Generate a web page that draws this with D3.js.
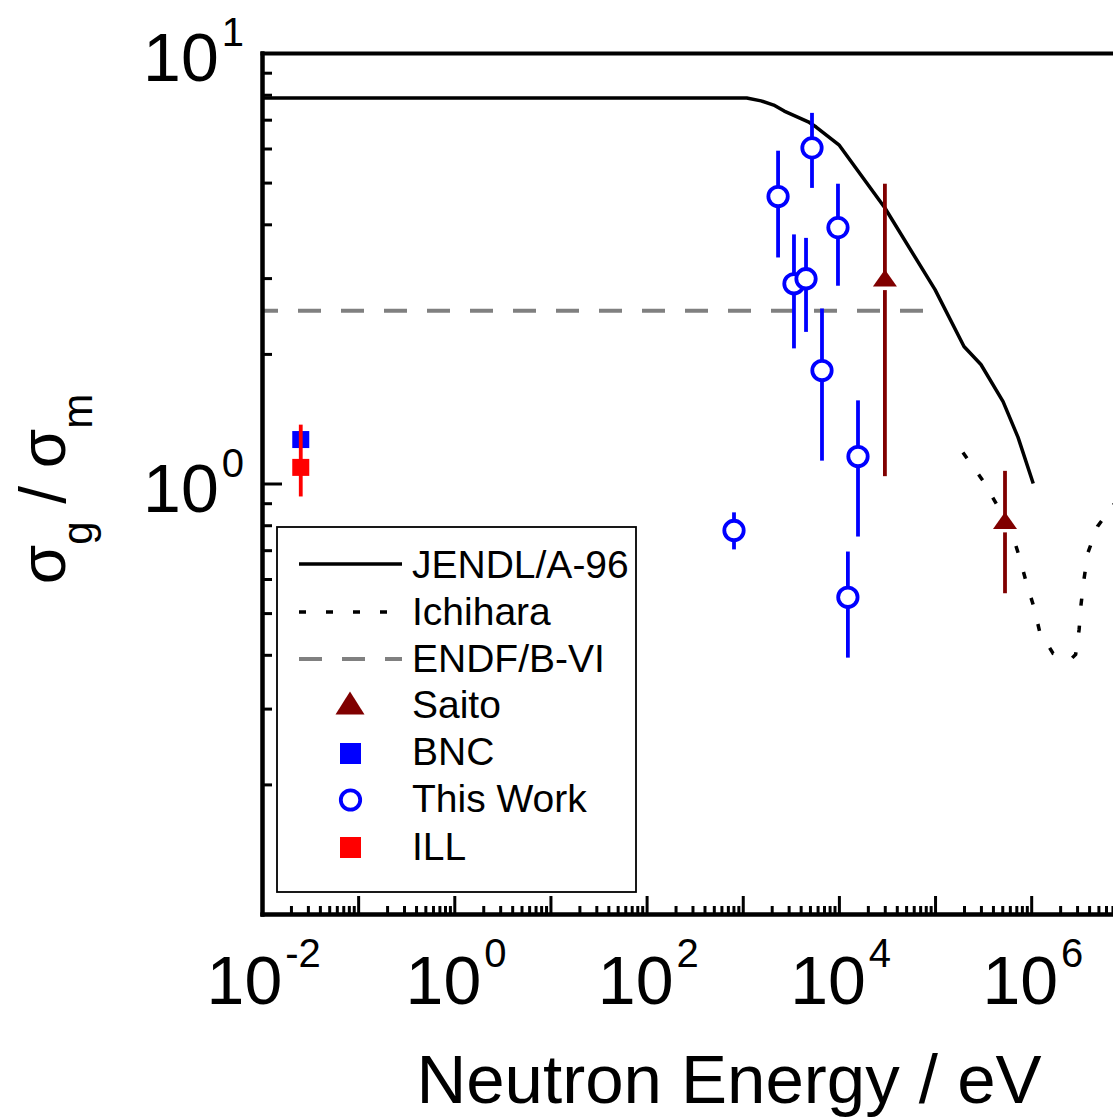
<!DOCTYPE html>
<html>
<head>
<meta charset="utf-8">
<script src="https://cdn.jsdelivr.net/npm/d3@7"></script>
<style>
  html, body { margin: 0; padding: 0; background: #fff; }
  svg { display: block; font-family: "Liberation Sans", Arial, sans-serif; }
</style>
</head>
<body>
<script>
// ---------------- data ----------------
const jendlE = [1e-2, 1100, 1550, 2100, 2700, 4800, 5800, 1e4, 3e4, 1e5, 2e5, 3e5, 5.1e5, 7.3e5, 1.05e6];
const jendlV = [7.86, 7.86, 7.74, 7.57, 7.33, 6.92, 6.73, 6.12, 4.37, 2.82, 2.08, 1.89, 1.55, 1.28, 1.0];

const ichiharaE = [1.95e5, 3.2e5, 4.5e5, 6.2e5, 7.5e5, 8.9e5, 1.07e6, 1.23e6, 1.69e6, 2.6e6, 2.9e6, 3.15e6, 3.3e6, 3.55e6, 3.9e6, 4.9e6, 7.2e6, 1e7];
const ichiharaV = [1.18, 1.01, 0.885, 0.775, 0.678, 0.589, 0.515, 0.451, 0.403, 0.391, 0.401, 0.458, 0.524, 0.602, 0.692, 0.795, 0.893, 0.95];

const endfE = [1e-2, 1e5];
const endfV = [2.52, 2.52];

const thisWorkE  = [811, 2330, 3410, 4550, 5250, 6670, 9780, 12400, 15800];
const thisWorkV  = [0.778, 4.64, 2.91, 2.99, 6.02, 1.83, 3.93, 0.544, 1.155];
const thisWorkLo = [0.703, 3.35, 2.06, 2.25, 4.86, 1.13, 2.88, 0.394, 0.753];
const thisWorkHi = [0.857, 5.93, 3.79, 3.72, 7.26, 2.55, 4.97, 0.695, 1.56];

const saitoE  = [30100, 5.34e5];
const saitoV  = [3.0, 0.821];
const saitoLo = [1.04, 0.556];
const saitoHi = [4.97, 1.07];

const bncE = [0.0253];
const bncV = [1.265];

const illE  = [0.0253];
const illV  = [1.09];
const illLo = [0.933];
const illHi = [1.37];

const xLabelValues = [1e-2, 1e0, 1e2, 1e4, 1e6];
const yLabelValues = [1e0, 1e1];
const legendLabels = ["JENDL/A-96", "Ichihara", "ENDF/B-VI", "Saito", "BNC", "This Work", "ILL"];

// ---------------- setup ----------------
const W = 1113, H = 1119;
const FONT = '"Liberation Sans", Arial, sans-serif';
const svg = d3.select("body").append("svg").attr("width", W).attr("height", H);
svg.append("rect").attr("width", W).attr("height", H).attr("fill", "#fff");

const x = d3.scaleLog().domain([1e-2, 1e7]).range([262, 262 + 9 * 96.15]);
const y = d3.scaleLog().domain([0.1, 10]).range([914, 53]);

const xMajor = d3.range(-2, 8).map(p => Math.pow(10, p));
const xMinor = [];
for (let p = -2; p < 7; p++) for (let m = 2; m <= 9; m++) xMinor.push(m * Math.pow(10, p));
const yMajor = [0.1, 1, 10];
const yMinor = [];
for (let p = -1; p < 1; p++) for (let m = 2; m <= 9; m++) yMinor.push(m * Math.pow(10, p));

function styleAxis(g, w) {
  g.select(".domain").attr("stroke", "#000").attr("stroke-width", 4).attr("stroke-linecap", "square");
  g.selectAll(".tick line").attr("stroke", "#000").attr("stroke-width", w);
  g.selectAll(".tick text").remove();
}

// ---------------- lines ----------------
const plot = svg.append("g");
const line = d3.line().x(d => x(d[0])).y(d => y(d[1]));

plot.append("path").datum(endfE.map((e, i) => [e, endfV[i]]))
  .attr("d", line).attr("fill", "none").attr("stroke", "#808080")
  .attr("stroke-width", 4).attr("stroke-dasharray", "23,20").attr("stroke-dashoffset", 7);

plot.append("path").datum(jendlE.map((e, i) => [e, jendlV[i]]))
  .attr("d", line).attr("fill", "none").attr("stroke", "#000")
  .attr("stroke-width", 3.5).attr("stroke-linejoin", "round");

plot.append("path").datum(ichiharaE.map((e, i) => [e, ichiharaV[i]]))
  .attr("d", line).attr("fill", "none").attr("stroke", "#000")
  .attr("stroke-width", 3.5).attr("stroke-dasharray", "7,20");

// ---------------- axes ----------------
const xAxisMinor = svg.append("g").attr("transform", "translate(0,914)")
  .call(d3.axisBottom(x).tickValues(xMinor).tickSize(-8).tickSizeOuter(0).tickFormat(""));
styleAxis(xAxisMinor, 3);
const xAxisMajor = svg.append("g").attr("transform", "translate(0,914)")
  .call(d3.axisBottom(x).tickValues(xMajor).tickSize(-18).tickSizeOuter(0).tickFormat(""));
styleAxis(xAxisMajor, 3);

const yAxisMinor = svg.append("g").attr("transform", "translate(262,0)")
  .call(d3.axisLeft(y).tickValues(yMinor).tickSize(-10).tickSizeOuter(0).tickFormat(""));
styleAxis(yAxisMinor, 3);
const yAxisMajor = svg.append("g").attr("transform", "translate(262,0)")
  .call(d3.axisLeft(y).tickValues(yMajor).tickSize(-20).tickSizeOuter(0).tickFormat(""));
styleAxis(yAxisMajor, 3);

const topAxis = svg.append("g").attr("transform", "translate(0,53)")
  .call(d3.axisTop(x).tickValues([]).tickSizeOuter(0));
styleAxis(topAxis, 3);

// tick labels x
const xLab = svg.append("g").attr("transform", "translate(0,914)")
  .call(d3.axisBottom(x).tickValues(xLabelValues).tickSize(0).tickFormat(""));
xLab.select(".domain").remove();
xLab.selectAll(".tick text").remove();
xLab.selectAll(".tick").each(function(d) {
  const t = d3.select(this).append("text")
    .attr("x", 1.2).attr("y", 90).attr("text-anchor", "middle")
    .attr("font-family", FONT).attr("fill", "#000").attr("font-size", 68);
  t.append("tspan").text("10");
  t.append("tspan").attr("font-size", 40).attr("dx", 3).attr("dy", -37)
    .text(String(Math.round(Math.log10(d))));
});

// tick labels y
const yLab = svg.append("g").attr("transform", "translate(262,0)")
  .call(d3.axisLeft(y).tickValues(yLabelValues).tickSize(0).tickFormat(""));
yLab.select(".domain").remove();
yLab.selectAll(".tick text").remove();
yLab.selectAll(".tick").each(function(d) {
  const t = d3.select(this).append("text")
    .attr("x", -18).attr("y", 27.5).attr("text-anchor", "end")
    .attr("font-family", FONT).attr("fill", "#000").attr("font-size", 68);
  t.append("tspan").text("10");
  t.append("tspan").attr("font-size", 40).attr("dx", 3).attr("dy", -35)
    .text(String(Math.round(Math.log10(d))));
});

// axis titles
svg.append("text").attr("x", 729).attr("y", 1103).attr("text-anchor", "middle")
  .attr("font-family", FONT).attr("font-size", 69).attr("fill", "#000")
  .text("Neutron Energy / eV");

const yt = svg.append("text").attr("transform", "translate(65,489) rotate(-90)")
  .attr("text-anchor", "middle").attr("font-family", FONT).attr("font-size", 64).attr("fill", "#000");
yt.append("tspan").text("σ");
yt.append("tspan").attr("font-size", 42).attr("dy", 27).text("g");
yt.append("tspan").attr("dy", -27).text(" / σ");
yt.append("tspan").attr("font-size", 42).attr("dy", 27).text("m");

// ---------------- points ----------------
const pts = svg.append("g");

// This Work
const tw = thisWorkE.map((e, i) => ({e, v: thisWorkV[i], lo: thisWorkLo[i], hi: thisWorkHi[i]}));
pts.selectAll(".twErr").data(tw).join("line").attr("class", "twErr")
  .attr("x1", d => x(d.e)).attr("x2", d => x(d.e))
  .attr("y1", d => y(d.hi)).attr("y2", d => y(d.lo))
  .attr("stroke", "#0000ff").attr("stroke-width", 3.8);
pts.selectAll(".twPt").data(tw).join("circle").attr("class", "twPt")
  .attr("cx", d => x(d.e)).attr("cy", d => y(d.v)).attr("r", 9.7)
  .attr("fill", "#fff").attr("stroke", "#0000ff").attr("stroke-width", 3.8);

// Saito
const sa = saitoE.map((e, i) => ({e, v: saitoV[i], lo: saitoLo[i], hi: saitoHi[i]}));
pts.selectAll(".saErrT").data(sa).join("line").attr("class", "saErrT")
  .attr("x1", d => x(d.e)).attr("x2", d => x(d.e))
  .attr("y1", d => y(d.hi)).attr("y2", d => y(d.v))
  .attr("stroke", "#800000").attr("stroke-width", 3.8);
pts.selectAll(".saErrB").data(sa).join("line").attr("class", "saErrB")
  .attr("x1", d => x(d.e)).attr("x2", d => x(d.e))
  .attr("y1", d => y(d.v) + 12).attr("y2", d => y(d.lo))
  .attr("stroke", "#800000").attr("stroke-width", 3.8);
pts.selectAll(".saPt").data(sa).join("path").attr("class", "saPt")
  .attr("transform", d => `translate(${x(d.e)},${y(d.v)})`)
  .attr("d", "M0,-8.5L12,8.5L-12,8.5Z").attr("fill", "#800000");

// BNC
pts.selectAll(".bnc").data(bncE.map((e, i) => ({e, v: bncV[i]}))).join("rect").attr("class", "bnc")
  .attr("x", d => x(d.e) - 8.5).attr("y", d => y(d.v) - 8.5)
  .attr("width", 17).attr("height", 17).attr("fill", "#0000ff");

// ILL
const il = illE.map((e, i) => ({e, v: illV[i], lo: illLo[i], hi: illHi[i]}));
pts.selectAll(".illErr").data(il).join("line").attr("class", "illErr")
  .attr("x1", d => x(d.e)).attr("x2", d => x(d.e))
  .attr("y1", d => y(d.hi)).attr("y2", d => y(d.lo))
  .attr("stroke", "#ff0000").attr("stroke-width", 3.8);
pts.selectAll(".ill").data(il).join("rect").attr("class", "ill")
  .attr("x", d => x(d.e) - 8.5).attr("y", d => y(d.v) - 8.5)
  .attr("width", 17).attr("height", 17).attr("fill", "#ff0000");

// ---------------- legend ----------------
const lg = svg.append("g");
lg.append("rect").attr("x", 277).attr("y", 527).attr("width", 359).attr("height", 365)
  .attr("fill", "#fff").attr("stroke", "#000").attr("stroke-width", 1.8);

const rowBase = [578, 625, 672, 718, 765, 812, 860];
lg.selectAll(".lt").data(legendLabels).join("text").attr("class", "lt")
  .attr("x", 412).attr("y", (d, i) => rowBase[i])
  .attr("font-family", FONT).attr("font-size", 39).attr("fill", "#000").text(d => d);

lg.append("line").attr("x1", 299).attr("x2", 402).attr("y1", 564).attr("y2", 564)
  .attr("stroke", "#000").attr("stroke-width", 3.5);
lg.append("line").attr("x1", 299).attr("x2", 402).attr("y1", 612).attr("y2", 612)
  .attr("stroke", "#000").attr("stroke-width", 3.5).attr("stroke-dasharray", "7,20");
lg.append("line").attr("x1", 299).attr("x2", 402).attr("y1", 659).attr("y2", 659)
  .attr("stroke", "#808080").attr("stroke-width", 4).attr("stroke-dasharray", "23,20");
lg.append("path").attr("transform", "translate(350,703)")
  .attr("d", "M0,-11.5L14.5,11.5L-14.5,11.5Z").attr("fill", "#800000");
lg.append("rect").attr("x", 340).attr("y", 743).attr("width", 21).attr("height", 21).attr("fill", "#0000ff");
lg.append("circle").attr("cx", 350.5).attr("cy", 800).attr("r", 9.7)
  .attr("fill", "#fff").attr("stroke", "#0000ff").attr("stroke-width", 3.8);
lg.append("rect").attr("x", 340).attr("y", 837).attr("width", 21).attr("height", 21).attr("fill", "#ff0000");
</script>
</body>
</html>
